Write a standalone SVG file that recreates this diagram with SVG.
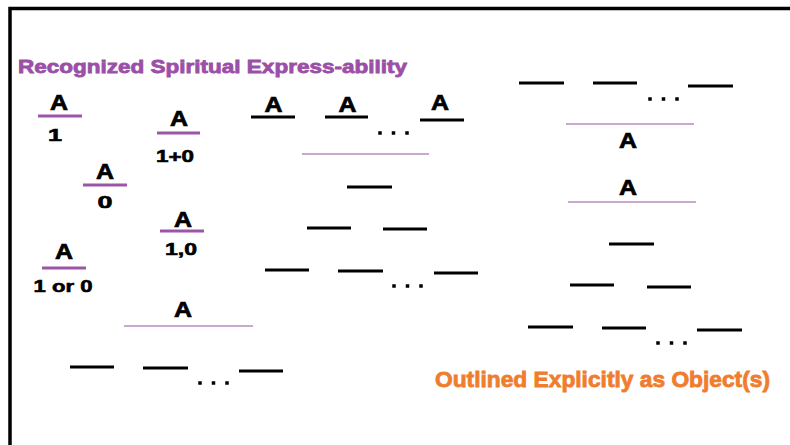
<svg xmlns="http://www.w3.org/2000/svg" width="790" height="445" viewBox="0 0 790 445">
<style>
.bg{fill:#ffffff}
.frame{stroke:#000;stroke-width:3.5;fill:none}
.bk{stroke:#000;stroke-width:3}
.pt{stroke:#9c55a8;stroke-width:3}
.pl{stroke:#b98dc1;stroke-width:1.6}
.dot{fill:#000}
.a{font-family:"Liberation Sans",Arial,sans-serif;font-weight:bold;font-size:22px;fill:#000;stroke:#000;stroke-width:0.7;text-anchor:middle}
.n{font-family:"Liberation Sans",Arial,sans-serif;font-weight:bold;font-size:17px;fill:#000;stroke:#000;stroke-width:0.6;text-anchor:middle}
.title{font-family:"Liberation Sans",Arial,sans-serif;font-weight:bold;font-size:19px;fill:#9b4fa7;stroke:#9b4fa7;stroke-width:0.8}
.obj{font-family:"Liberation Sans",Arial,sans-serif;font-weight:bold;font-size:22px;fill:#f07d2c;stroke:#f07d2c;stroke-width:0.8}
</style>
<defs>
<g id="dots"><rect class="dot" x="-1.75" y="-1.75" width="3.5" height="3.5"/><rect class="dot" x="11.75" y="-1.75" width="3.5" height="3.5"/><rect class="dot" x="25.25" y="-1.75" width="3.5" height="3.5"/></g>
</defs>
<rect class="bg" x="0" y="0" width="790" height="445"/>
<path class="frame" d="M10 445 V8.5 H790"/>

<text id="title" class="title" x="18" y="73" textLength="389" lengthAdjust="spacingAndGlyphs">Recognized Spiritual Express-ability</text>

<g id="frac-1">
<text class="a" x="59" y="110" textLength="18" lengthAdjust="spacingAndGlyphs">A</text>
<line class="pt" x1="38" y1="116" x2="82" y2="116"/>
<text class="n" x="55" y="141" textLength="14" lengthAdjust="spacingAndGlyphs">1</text>
</g>
<g id="frac-1plus0">
<text class="a" x="179" y="126" textLength="18" lengthAdjust="spacingAndGlyphs">A</text>
<line class="pt" x1="157" y1="133" x2="200" y2="133"/>
<text class="n" x="175" y="162" textLength="38" lengthAdjust="spacingAndGlyphs">1+0</text>
</g>
<g id="frac-0">
<text class="a" x="105" y="179" textLength="18" lengthAdjust="spacingAndGlyphs">A</text>
<line class="pt" x1="83" y1="185" x2="127" y2="185"/>
<text class="n" x="105" y="208" textLength="15" lengthAdjust="spacingAndGlyphs">0</text>
</g>
<g id="frac-1comma0">
<text class="a" x="183" y="227" textLength="18" lengthAdjust="spacingAndGlyphs">A</text>
<line class="pt" x1="160" y1="231" x2="204" y2="231"/>
<text class="n" x="181" y="255" textLength="32" lengthAdjust="spacingAndGlyphs">1,0</text>
</g>
<g id="frac-1or0">
<text class="a" x="64" y="259" textLength="18" lengthAdjust="spacingAndGlyphs">A</text>
<line class="pt" x1="42" y1="268" x2="86" y2="268"/>
<text class="n" x="63" y="292" textLength="59" lengthAdjust="spacingAndGlyphs">1 or 0</text>
</g>

<g id="group-left-bottom">
<text class="a" x="183" y="317" textLength="18" lengthAdjust="spacingAndGlyphs">A</text>
<line class="pl" x1="124" y1="326" x2="253" y2="326"/>
<line class="bk" x1="70" y1="367" x2="114" y2="367"/>
<line class="bk" x1="143" y1="368" x2="188" y2="368"/>
<use href="#dots" x="200" y="383"/>
<line class="bk" x1="239" y1="371" x2="283" y2="371"/>
</g>

<g id="group-middle">
<text class="a" x="273.5" y="112" textLength="18" lengthAdjust="spacingAndGlyphs">A</text>
<line class="bk" x1="251" y1="117" x2="295" y2="117"/>
<text class="a" x="347.5" y="112" textLength="18" lengthAdjust="spacingAndGlyphs">A</text>
<line class="bk" x1="325" y1="117" x2="368" y2="117"/>
<use href="#dots" x="380" y="133"/>
<text class="a" x="440" y="110" textLength="18" lengthAdjust="spacingAndGlyphs">A</text>
<line class="bk" x1="420" y1="120" x2="464" y2="120"/>
<line class="pl" x1="302" y1="154" x2="429" y2="154"/>
<line class="bk" x1="347" y1="187" x2="392" y2="187"/>
<line class="bk" x1="307" y1="228" x2="351" y2="228"/>
<line class="bk" x1="383" y1="229" x2="427" y2="229"/>
<line class="bk" x1="265" y1="270" x2="309" y2="270"/>
<line class="bk" x1="338" y1="271" x2="383" y2="271"/>
<use href="#dots" x="394" y="286"/>
<line class="bk" x1="434" y1="273" x2="478" y2="273"/>
</g>

<g id="group-right">
<line class="bk" x1="519" y1="83" x2="564" y2="83"/>
<line class="bk" x1="593" y1="83" x2="637" y2="83"/>
<use href="#dots" x="650" y="99"/>
<line class="bk" x1="688" y1="86" x2="733" y2="86"/>
<line class="pl" x1="566" y1="124" x2="694" y2="124"/>
<text class="a" x="628" y="148" textLength="18" lengthAdjust="spacingAndGlyphs">A</text>
<text class="a" x="628" y="195" textLength="18" lengthAdjust="spacingAndGlyphs">A</text>
<line class="pl" x1="568" y1="202" x2="696" y2="202"/>
<line class="bk" x1="609" y1="244" x2="654" y2="244"/>
<line class="bk" x1="570" y1="285" x2="614" y2="285"/>
<line class="bk" x1="647" y1="287" x2="691" y2="287"/>
<line class="bk" x1="528" y1="327" x2="573" y2="327"/>
<line class="bk" x1="602" y1="328" x2="646" y2="328"/>
<use href="#dots" x="658" y="343"/>
<line class="bk" x1="697" y1="330" x2="742" y2="330"/>
</g>

<text id="caption" class="obj" x="435" y="387" textLength="335" lengthAdjust="spacingAndGlyphs">Outlined Explicitly as Object(s)</text>
</svg>
